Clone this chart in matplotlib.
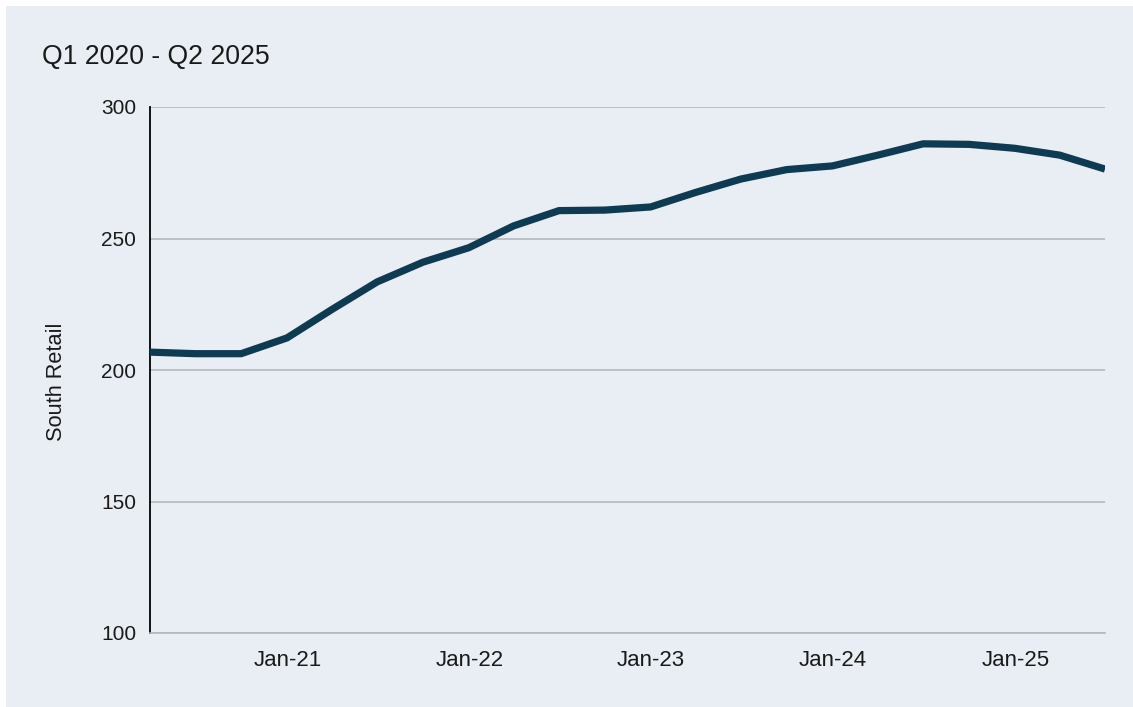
import matplotlib.pyplot as plt
import matplotlib.dates as mdates
import matplotlib.patches as mpatches
import pandas as pd

# Quarterly series, Q1 2020 - Q2 2025 (plotted at quarter end)
quarters = pd.date_range("2020-03-31", periods=22, freq="QE")
south_retail = [206.8, 206.2, 206.2, 212.2, 223.0, 233.5, 241.0, 246.5,
                254.8, 260.6, 260.8, 262.0, 267.5, 272.6, 276.2, 277.6,
                281.7, 286.0, 285.8, 284.3, 281.7, 276.4]
y_ticks = [100, 150, 200, 250, 300]
x_tick_dates = pd.to_datetime(["2021-01-01", "2022-01-01", "2023-01-01",
                               "2024-01-01", "2025-01-01"])

BG = '#e8eef4'
LINE = '#0e3a52'
GRID = '#b4b8bc'
TEXT = '#1a1a1a'

plt.rcParams['font.family'] = ['Liberation Sans', 'DejaVu Sans']

fig = plt.figure(figsize=(11.33, 7.07), dpi=100)
fig.patch.set_facecolor('white')
# light panel with a thin white margin at top/left (kept behind the axes)
panel = mpatches.Rectangle((6 / 1133, 0), 1, 1 - 6 / 707,
                           transform=fig.transFigure,
                           facecolor=BG, edgecolor='none', zorder=-10)
fig.add_artist(panel)

ax = fig.add_axes([150 / 1133, 1 - 633 / 707, 955 / 1133, 526 / 707])
ax.set_facecolor(BG)

ax.plot(quarters, south_retail, color=LINE, lw=5.2,
        solid_capstyle='butt', solid_joinstyle='round', zorder=3)

ax.set_ylim(100, 300)
ax.set_xlim(quarters[0], quarters[-1])
ax.set_yticks(y_ticks)
ax.set_xticks(x_tick_dates)
ax.xaxis.set_major_formatter(mdates.DateFormatter('%b-%y'))

ax.grid(axis='y', color=GRID, lw=1.2, zorder=1)
ax.grid(axis='x', visible=False)
ax.tick_params(axis='both', length=0, colors=TEXT)
ax.tick_params(axis='y', pad=10, labelsize=15)
ax.tick_params(axis='x', pad=12, labelsize=16)

for side in ['top', 'right']:
    ax.spines[side].set_visible(False)
ax.spines['left'].set_color('black')
ax.spines['left'].set_linewidth(1.3)
ax.spines['bottom'].set_color(GRID)
ax.spines['bottom'].set_linewidth(1.2)

ax.set_ylabel('South Retail', fontsize=15.7, color=TEXT)
ax.yaxis.set_label_coords(-0.087, 0.477)
fig.text(42 / 1133, 1 - 57 / 707, 'Q1 2020 - Q2 2025', fontsize=19.2,
         color=TEXT, ha='left', va='center')

fig.savefig('out.png', dpi=100, facecolor=fig.get_facecolor())
